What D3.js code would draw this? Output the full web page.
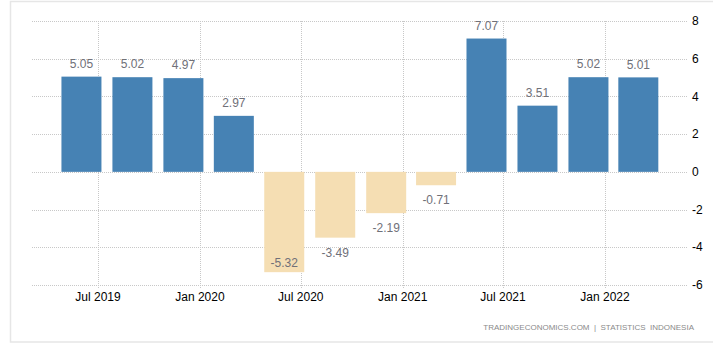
<!DOCTYPE html>
<html>
<head>
<meta charset="utf-8">
<script src="https://cdn.jsdelivr.net/npm/d3@7"></script>
<style>
    body { margin: 0; background: #fff; }
    svg { display: block; }
</style>
</head>
<body>
<div id="chart"></div>
<script>

// quarterly GDP growth, Indonesia (YoY %)
const quarterDates = ["2019-06-30", "2019-09-30", "2019-12-31", "2020-03-31", "2020-06-30", "2020-09-30",
                      "2020-12-31", "2021-03-31", "2021-06-30", "2021-09-30", "2021-12-31", "2022-03-31"];
const growthValues = [5.05, 5.02, 4.97, 2.97, -5.32, -3.49, -2.19, -0.71, 7.07, 3.51, 5.02, 5.01];
const yTickValues = [-6, -4, -2, 0, 2, 4, 6, 8];
const xTickDates = ["2019-07-01", "2020-01-01", "2020-07-01", "2021-01-01", "2021-07-01", "2022-01-01"];
const sourceText = "TRADINGECONOMICS.COM  |  STATISTICS  INDONESIA";

const chartWidth = 713,
      chartHeight = 350,
      plotLeft = 32,
      plotRight = 687,
      plotTop = 21,
      plotBottom = 285;

const parseDate = d3.timeParse("%Y-%m-%d");
const data = quarterDates.map(function (d, i) {
    return {date: parseDate(d), value: growthValues[i]};
});

const svg = d3.select("#chart")
    .append("svg")
    .attr("width", chartWidth)
    .attr("height", chartHeight)
    .style("font-family", "'Liberation Sans', Arial, sans-serif");

// frame
svg.append("rect")
    .attr("x", 10.5)
    .attr("y", 1.5)
    .attr("width", chartWidth)
    .attr("height", 340.5)
    .attr("fill", "none")
    .attr("stroke", "#e6e6e6")
    .attr("stroke-width", 1.5);

const xScale = d3.scaleTime()
    .domain([parseDate("2019-07-01"), parseDate("2022-01-01")])
    .range([98, 605]);

const yScale = d3.scaleLinear()
    .domain([-6, 8])
    .range([plotBottom, plotTop]);

// horizontal grid + right axis labels
svg.append("g")
    .selectAll("line")
    .data(yTickValues)
    .join("line")
    .attr("x1", plotLeft)
    .attr("x2", plotRight)
    .attr("y1", d => Math.round(yScale(d)) + 0.5)
    .attr("y2", d => Math.round(yScale(d)) + 0.5)
    .attr("stroke", "#c8c8c8")
    .attr("stroke-dasharray", "1,1");

svg.append("g")
    .selectAll("text")
    .data(yTickValues)
    .join("text")
    .attr("x", 692)
    .attr("y", d => yScale(d))
    .attr("dy", "0.35em")
    .attr("font-size", "12px")
    .attr("fill", "#000")
    .text(d => String(d));

// vertical grid + bottom labels
const xTicks = xTickDates.map(parseDate);
svg.append("g")
    .selectAll("line")
    .data(xTicks)
    .join("line")
    .attr("x1", d => Math.round(xScale(d)) + 0.5)
    .attr("x2", d => Math.round(xScale(d)) + 0.5)
    .attr("y1", plotTop)
    .attr("y2", plotBottom + 4)
    .attr("stroke", "#c8c8c8")
    .attr("stroke-dasharray", "1,1");

svg.append("g")
    .selectAll("text")
    .data(xTicks)
    .join("text")
    .attr("x", d => xScale(d))
    .attr("y", 297)
    .attr("dy", "0.35em")
    .attr("text-anchor", "middle")
    .attr("font-size", "12px")
    .attr("fill", "#000")
    .text(d3.timeFormat("%b %Y"));

// bars (drawn a little left of the quarter end)
const barWidth = 40,
      barShift = -16;

svg.append("g")
    .selectAll("rect")
    .data(data)
    .join("rect")
    .attr("x", d => xScale(d.date) + barShift - barWidth / 2)
    .attr("width", barWidth)
    .attr("y", d => yScale(Math.max(0, d.value)))
    .attr("height", d => Math.abs(yScale(d.value) - yScale(0)))
    .attr("fill", d => d.value >= 0 ? "steelblue" : "wheat");

// value labels
svg.append("g")
    .selectAll("text")
    .data(data)
    .join("text")
    .attr("x", d => xScale(d.date) + barShift)
    .attr("y", function (d) {
        if (d.value >= 0) return yScale(d.value) - 13;
        let below = yScale(d.value) + 15;
        if (below + 6 > plotBottom) return yScale(d.value) - 9;
        return below;
    })
    .attr("dy", "0.35em")
    .attr("text-anchor", "middle")
    .attr("font-size", "12px")
    .attr("fill", "#707078")
    .text(d => d.value.toFixed(2));

// source
svg.append("text")
    .attr("x", 694)
    .attr("y", 327)
    .attr("dy", "0.35em")
    .attr("text-anchor", "end")
    .attr("font-size", "8px")
    .attr("fill", "#8a8a8a")
    .style("white-space", "pre")
    .text(sourceText);

</script>
</body>
</html>
